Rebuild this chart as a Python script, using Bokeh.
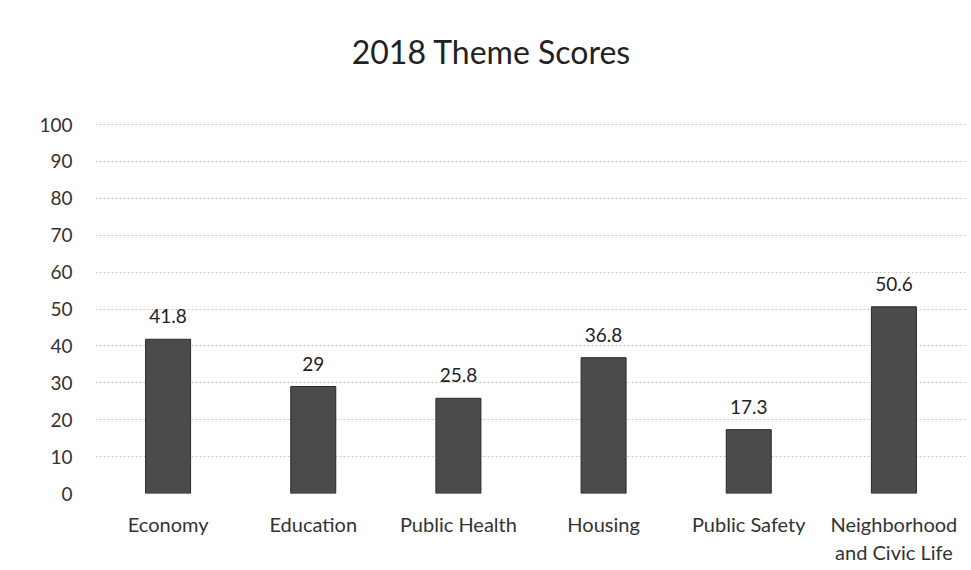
from bokeh.plotting import figure
from bokeh.models import ColumnDataSource, FixedTicker, Range1d
from bokeh.core.properties import value
from bokeh.embed import file_html
from bokeh.resources import INLINE

categories = ["Economy", "Education", "Public Health", "Housing", "Public Safety", "Neighborhood\nand Civic Life"]
scores = [41.8, 29, 25.8, 36.8, 17.3, 50.6]
score_labels = ["41.8", "29", "25.8", "36.8", "17.3", "50.6"]
y_ticks = [0, 10, 20, 30, 40, 50, 60, 70, 80, 90, 100]
title_text = ["2018 Theme Scores"]

FONT = "Lato"

src = ColumnDataSource(dict(cat=categories, val=scores, lab=score_labels))

# frame extends above 100 so that the title can sit inside it (axis ticks stop at 100)
p = figure(x_range=categories, y_range=Range1d(0, 128.2), width=971, height=570,
           output_backend="svg", toolbar_location=None,
           min_border_left=95, min_border_right=5, min_border_top=20, min_border_bottom=77)
p.outline_line_color = None
p.background_fill_color = "white"
p.border_fill_color = "white"

p.text(x=["Public Health"], y=[119.8], text=title_text, x_offset=33,
       text_align="center", text_baseline="middle", text_font=value(FONT),
       text_font_size="32px", text_color="#222222")

p.vbar(x="cat", top="val", width=0.31, source=src, fill_color="#4b4b4b",
       line_color="#2a2a2a", line_width=1)
p.text(x="cat", y="val", text="lab", source=src, text_align="center",
       text_baseline="bottom", y_offset=-16, text_font=value(FONT),
       text_font_size="19px", text_color="#222222")

p.yaxis.ticker = FixedTicker(ticks=y_ticks)
p.ygrid.ticker = FixedTicker(ticks=y_ticks)
for ax in (p.xaxis[0], p.yaxis[0]):
    ax.axis_line_color = None
    ax.major_tick_line_color = None
    ax.minor_tick_line_color = None
    ax.major_label_text_font = FONT
    ax.major_label_text_color = "#333333"
p.yaxis.major_label_text_font_size = "19px"
p.xaxis.major_label_text_font_size = "20px"
p.yaxis.major_label_standoff = 17
p.xaxis.major_label_standoff = 12
p.xgrid.grid_line_color = None
p.ygrid.grid_line_color = "#c8c8c8"
p.ygrid.grid_line_dash = "2 2"
p.ygrid.grid_line_width = 1

open("out.html", "w").write(file_html(p, INLINE))
